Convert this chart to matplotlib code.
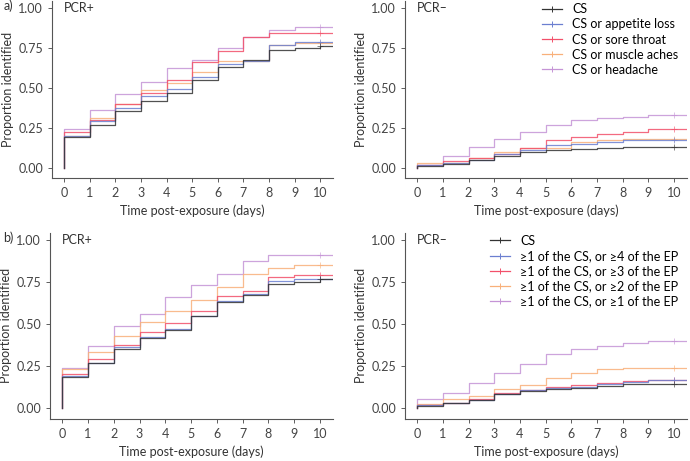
import numpy as np
import matplotlib
matplotlib.use('Agg')
from matplotlib import pyplot as plt

plt.rcParams['font.family'] = ['Lato', 'DejaVu Sans']
plt.rcParams['font.size'] = 9

days = np.arange(0, 11)
colors = ['#333333', '#6b7fd0', '#f2506a', '#f8b07a', '#c594d6']

labels_a = ['CS', 'CS or appetite loss', 'CS or sore throat', 'CS or muscle aches', 'CS or headache']
labels_b = ['CS', '≥1 of the CS, or ≥4 of the EP', '≥1 of the CS, or ≥3 of the EP',
            '≥1 of the CS, or ≥2 of the EP', '≥1 of the CS, or ≥1 of the EP']

# a) PCR+
a_pos_cs = [0.19, 0.27, 0.355, 0.418, 0.466, 0.549, 0.632, 0.672, 0.735, 0.75, 0.765]
a_pos_app = [0.20, 0.29, 0.372, 0.446, 0.49, 0.565, 0.65, 0.67, 0.77, 0.79, 0.79]
a_pos_thr = [0.22, 0.30, 0.40, 0.47, 0.55, 0.66, 0.73, 0.82, 0.845, 0.845, 0.845]
a_pos_mus = [0.20, 0.31, 0.40, 0.485, 0.53, 0.60, 0.67, 0.67, 0.77, 0.78, 0.78]
a_pos_head = [0.24, 0.36, 0.46, 0.535, 0.625, 0.675, 0.75, 0.82, 0.86, 0.88, 0.88]

# a) PCR-
a_neg_cs = [0.01, 0.025, 0.045, 0.075, 0.095, 0.11, 0.115, 0.125, 0.13, 0.132, 0.132]
a_neg_app = [0.015, 0.03, 0.05, 0.085, 0.11, 0.14, 0.15, 0.16, 0.17, 0.17, 0.17]
a_neg_thr = [0.015, 0.04, 0.06, 0.085, 0.12, 0.17, 0.19, 0.21, 0.225, 0.24, 0.24]
a_neg_mus = [0.03, 0.03, 0.06, 0.10, 0.125, 0.125, 0.16, 0.175, 0.18, 0.18, 0.18]
a_neg_head = [0.015, 0.075, 0.13, 0.18, 0.225, 0.27, 0.30, 0.31, 0.32, 0.33, 0.33]

# b) PCR+
b_pos_cs = [0.184, 0.266, 0.353, 0.417, 0.466, 0.55, 0.63, 0.674, 0.74, 0.753, 0.77]
b_pos_ep4 = [0.19, 0.27, 0.36, 0.42, 0.47, 0.55, 0.635, 0.68, 0.755, 0.77, 0.77]
b_pos_ep3 = [0.20, 0.29, 0.375, 0.45, 0.505, 0.58, 0.665, 0.70, 0.78, 0.795, 0.795]
b_pos_ep2 = [0.23, 0.33, 0.43, 0.515, 0.575, 0.645, 0.72, 0.80, 0.835, 0.855, 0.855]
b_pos_ep1 = [0.24, 0.37, 0.49, 0.56, 0.66, 0.735, 0.80, 0.875, 0.91, 0.91, 0.91]

# b) PCR-
b_neg_cs = [0.01, 0.03, 0.045, 0.08, 0.10, 0.11, 0.12, 0.13, 0.14, 0.14, 0.14]
b_neg_ep4 = [0.015, 0.03, 0.045, 0.08, 0.105, 0.115, 0.125, 0.14, 0.155, 0.165, 0.165]
b_neg_ep3 = [0.015, 0.03, 0.05, 0.085, 0.105, 0.125, 0.135, 0.145, 0.16, 0.165, 0.165]
b_neg_ep2 = [0.02, 0.05, 0.07, 0.11, 0.135, 0.18, 0.21, 0.23, 0.235, 0.235, 0.235]
b_neg_ep1 = [0.05, 0.09, 0.145, 0.205, 0.26, 0.32, 0.35, 0.37, 0.385, 0.40, 0.40]

panels = [
    ([0.0754, 0.614, 0.4072, 0.384], 'PCR+', [a_pos_cs, a_pos_app, a_pos_thr, a_pos_mus, a_pos_head], labels_a, False, 'a)'),
    ([0.587, 0.614, 0.4087, 0.384], 'PCR–', [a_neg_cs, a_neg_app, a_neg_thr, a_neg_mus, a_neg_head], labels_a, True, None),
    ([0.0725, 0.092, 0.41, 0.403], 'PCR+', [b_pos_cs, b_pos_ep4, b_pos_ep3, b_pos_ep2, b_pos_ep1], labels_b, False, 'b)'),
    ([0.587, 0.092, 0.4087, 0.403], 'PCR–', [b_neg_cs, b_neg_ep4, b_neg_ep3, b_neg_ep2, b_neg_ep1], labels_b, True, None),
]

fig = plt.figure(figsize=(6.9, 4.61), dpi=100)

for rect, title, series, labels, show_legend, tag in panels:
    ax = fig.add_axes(rect)
    # draw from the highest curve down so the CS curve ends on top
    for vals, lab, col in reversed(list(zip(series, labels, colors))):
        x = np.concatenate([[0], days, [10.5]])
        y = np.concatenate([[0], vals, [vals[-1]]])
        ax.step(x, y, where='post', color=col, lw=0.9, alpha=0.85)
        ax.plot([10], [vals[-1]], marker='+', color=col, ms=4, mew=0.6, ls='none', alpha=0.7)
    handles = [plt.Line2D([], [], color=c, lw=0.9, marker='+', ms=5, mew=0.7) for c in colors]
    if show_legend:
        ax.legend(handles, labels, loc='upper right', bbox_to_anchor=(1.01, 1.05), frameon=False,
                  fontsize=9, handlelength=1.6, labelspacing=0.25, handletextpad=0.8)
    ax.set_xlim(-0.47, 10.5)
    ax.set_ylim(-0.065, 1.045)
    ax.set_xticks(days)
    ax.set_yticks([0, 0.25, 0.5, 0.75, 1.0])
    ax.set_yticklabels(['0.00', '0.25', '0.50', '0.75', '1.00'])
    ax.spines['top'].set_visible(False)
    ax.spines['right'].set_visible(False)
    for s in ['left', 'bottom']:
        ax.spines[s].set_color('#555555')
        ax.spines[s].set_linewidth(0.8)
    ax.tick_params(colors='#444444', length=3, width=0.6, labelsize=9)
    ax.set_xlabel('Time post-exposure (days)', fontsize=9, color='#333333', labelpad=4)
    ax.set_ylabel('Proportion identified', fontsize=9, color='#333333', labelpad=3)
    ax.text(0, 1.0, title, fontsize=9, color='#333333', va='center')
    if tag:
        fig.text(0.005, rect[1] + rect[3] + 0.003, tag, fontsize=9, color='#333333', va='top')

fig.savefig('out.png', dpi=100)
